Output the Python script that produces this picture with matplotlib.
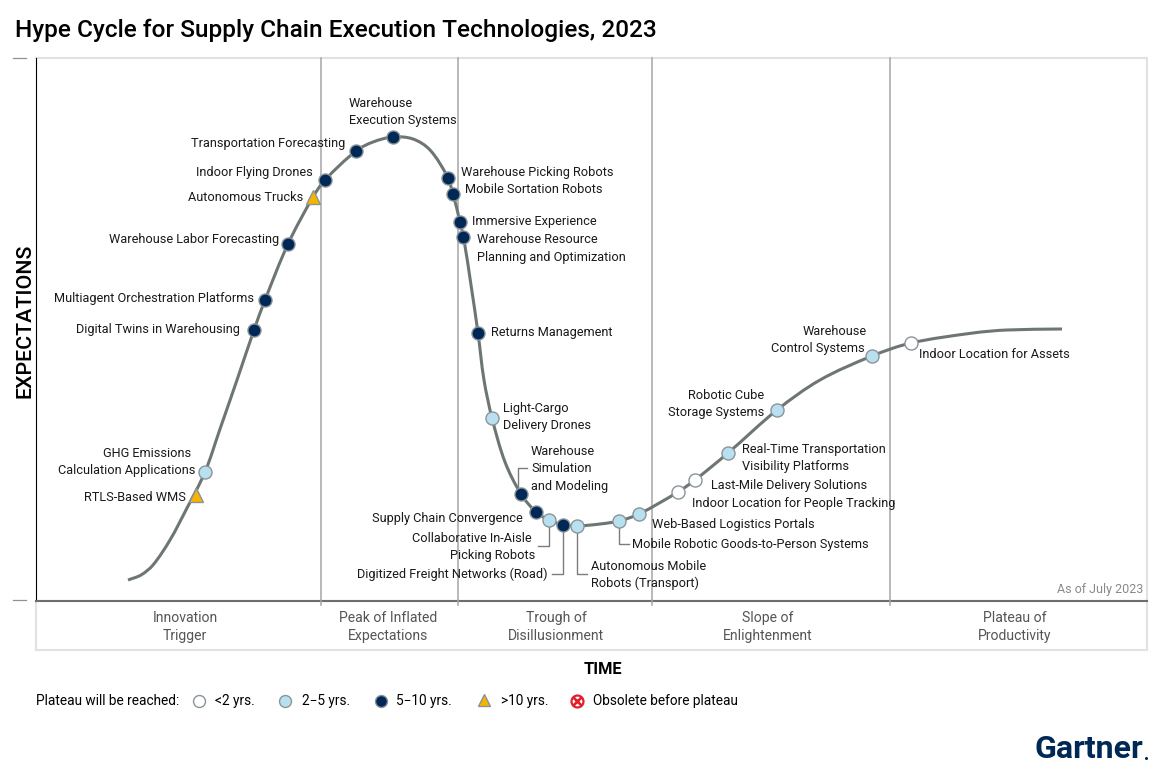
import matplotlib
matplotlib.use('Agg')
import matplotlib.pyplot as plt
import numpy as np
from matplotlib.path import Path
from matplotlib.patches import PathPatch

plt.rcParams['font.family'] = ['Roboto', 'DejaVu Sans']

# hype curve (pixels)
curve_x = [128, 141, 153, 170, 187, 205, 220, 237, 254, 265, 288, 313, 325, 356, 373, 393, 413, 430, 447, 453,
           460, 464, 471, 478, 484, 492, 505, 521, 536, 549, 563, 577, 600, 619, 639, 678, 695, 728, 777, 820,
           872, 911, 973, 1007, 1062]
curve_y = [580, 575, 565, 540, 508, 472, 429, 380, 330, 300, 244, 197, 180, 151, 142, 137, 139, 150, 176, 194,
           222, 240, 285, 333, 380, 418, 462, 494, 512, 520, 525, 526, 524, 521, 514, 492, 480, 453, 410, 380,
           356, 343, 333, 330, 329]

# technologies by time to plateau
white_x = [911, 695, 678]
white_y = [343, 480, 492]
light_x = [872, 777, 728, 639, 619, 577, 549, 492, 205]
light_y = [356, 410, 453, 514, 521, 526, 520, 418, 472]
navy_x = [393, 356, 325, 288, 265, 254, 448, 453, 460, 463, 478, 521, 536, 563]
navy_y = [137, 151, 180, 244, 300, 330, 178, 194, 222, 237, 333, 494, 512, 525]
tri_x = [313, 196]
tri_y = [197, 495]

phase_edges = [321, 458, 652, 890]
phase_names = ['Innovation\nTrigger', 'Peak of Inflated\nExpectations', 'Trough of\nDisillusionment',
               'Slope of\nEnlightenment', 'Plateau of\nProductivity']
phase_centers = [185, 388, 556, 768, 1015]

labels_left = [
    ('Warehouse', 349, 103), ('Execution Systems', 349, 120),
    ('Warehouse Picking Robots', 461, 172), ('Mobile Sortation Robots', 465, 189),
    ('Immersive Experience', 472, 221), ('Warehouse Resource', 477, 239),
    ('Planning and Optimization', 477, 257), ('Returns Management', 491, 332),
    ('Light-Cargo', 503, 408), ('Delivery Drones', 503, 425),
    ('Warehouse', 531, 451), ('Simulation', 531, 468), ('and Modeling', 531, 486),
    ('Autonomous Mobile', 591, 566), ('Robots (Transport)', 591, 583),
    ('Mobile Robotic Goods-to-Person Systems', 632, 544), ('Web-Based Logistics Portals', 652, 524),
    ('Indoor Location for People Tracking', 692, 503), ('Last-Mile Delivery Solutions', 711, 485),
    ('Real-Time Transportation', 742, 449), ('Visibility Platforms', 742, 466),
    ('Indoor Location for Assets', 919, 354),
]
labels_right = [
    ('Transportation Forecasting', 345, 143), ('Indoor Flying Drones', 313, 172),
    ('Autonomous Trucks', 303, 197), ('Warehouse Labor Forecasting', 279, 239),
    ('Multiagent Orchestration Platforms', 254, 298), ('Digital Twins in Warehousing', 240, 329),
    ('GHG Emissions', 191, 453), ('Calculation Applications', 195, 470), ('RTLS-Based WMS', 186, 497),
    ('Supply Chain Convergence', 523, 518), ('Collaborative In-Aisle', 532, 538),
    ('Picking Robots', 535, 555), ('Digitized Freight Networks (Road)', 548, 574),
    ('Robotic Cube', 764, 395), ('Storage Systems', 764, 412),
    ('Warehouse', 867, 331), ('Control Systems', 865, 348),
]

# leader lines from marker to label
leaders = [
    ([518, 518, 527], [493, 468, 468]),
    ([549, 549, 538], [520, 546, 546]),
    ([563, 563, 552], [525, 574, 574]),
    ([577, 577, 587], [526, 574, 574]),
    ([619, 619, 629], [521, 544, 544]),
]

NAVY = '#002856'
LIGHT = '#b9e0f0'
EDGE = '#8a9499'
AMBER = '#f5b400'

fig = plt.figure(figsize=(11.7, 7.71), dpi=100)
ax = fig.add_axes([0, 0, 1, 1])
ax.set_xlim(0, 1170)
ax.set_ylim(771, 0)
ax.axis('off')

# frame
ax.plot([36, 1147, 1147], [58, 58, 650], color='#e2e2e2', lw=1.5)
ax.plot([36, 36, 1147], [650, 601, 601], color='#e2e2e2', lw=1.5)
ax.plot([36, 1147], [650, 650], color='#e2e2e2', lw=1.5)
ax.plot([36, 36], [58, 601], color='black', lw=0.8)
ax.plot([36, 1147], [601, 601], color='#6b6f70', lw=1.5)
ax.plot([13, 26], [58, 58], color='#8a9499', lw=0.9)
ax.plot([13, 26], [600, 600], color='#8a9499', lw=0.9)
for x in phase_edges:
    ax.plot([x, x], [58, 605], color='#a5a5a5', lw=1.1)

# curve, bezier segments through the read points
pts = np.column_stack([curve_x, curve_y]).astype(float)
tangents = np.zeros_like(pts)
for i in range(len(pts)):
    p0 = pts[max(i - 1, 0)]
    p2 = pts[min(i + 1, len(pts) - 1)]
    tangents[i] = (p2 - p0) / np.hypot(*(p2 - p0))
verts = [pts[0]]
codes = [Path.MOVETO]
for i in range(len(pts) - 1):
    d = np.hypot(*(pts[i + 1] - pts[i])) / 3
    verts += [pts[i] + tangents[i] * d, pts[i + 1] - tangents[i + 1] * d, pts[i + 1]]
    codes += [Path.CURVE4] * 3
ax.add_patch(PathPatch(Path(verts, codes), fill=False, edgecolor='#6d7673', lw=2.2, capstyle='butt', zorder=2))

for xs, ys in leaders:
    ax.plot(xs, ys, color='#7c7c7c', lw=1.0, zorder=2.5)

ms = 9.4
ax.plot(white_x, white_y, 'o', ms=ms, mfc='white', mec=EDGE, mew=1, zorder=3)
ax.plot(light_x, light_y, 'o', ms=ms, mfc=LIGHT, mec=EDGE, mew=1, zorder=3)
ax.plot(navy_x, navy_y, 'o', ms=ms, mfc=NAVY, mec=EDGE, mew=1, zorder=3)
ax.plot(tri_x, tri_y, '^', ms=ms + 0.6, mfc=AMBER, mec=EDGE, mew=1, zorder=3)

for s, x, y in labels_left:
    ax.text(x, y + 4, s, ha='left', va='baseline', fontsize=9.15, color='#1a1a1a')
for s, x, y in labels_right:
    ax.text(x, y + 4, s, ha='right', va='baseline', fontsize=9.15, color='#1a1a1a')

ax.text(15, 30, 'Hype Cycle for Supply Chain Execution Technologies, 2023', fontsize=17.6, fontweight='medium',
        ha='left', va='center', color='black')
ax.text(25, 321, 'EXPECTATIONS', fontsize=15.4, fontweight='medium', rotation=90, ha='center', va='center')
ax.text(603, 669, 'TIME', fontsize=11.8, fontweight='bold', ha='center', va='center')
ax.text(1143, 590, 'As of July 2023', fontsize=9, color='#8a8a8a', ha='right', va='center')

for name, xc in zip(phase_names, phase_centers):
    ax.text(xc, 627, name, fontsize=10.1, color='#555555', ha='center', va='center', linespacing=1.4)

# legend
ly = 701
ax.text(36, ly, 'Plateau will be reached:', fontsize=9.8, color='black', ha='left', va='center')
ax.plot([199], [ly], 'o', ms=8.6, mfc='white', mec=EDGE, mew=1)
ax.text(215, ly, '<2 yrs.', fontsize=9.8, color='black', ha='left', va='center')
ax.plot([285], [ly], 'o', ms=8.6, mfc=LIGHT, mec=EDGE, mew=1)
ax.text(302, ly, '2\u22125 yrs.', fontsize=9.8, color='black', ha='left', va='center')
ax.plot([381], [ly], 'o', ms=8.6, mfc=NAVY, mec=EDGE, mew=1)
ax.text(396, ly, '5\u221210 yrs.', fontsize=9.8, color='black', ha='left', va='center')
ax.plot([484], [ly - 1], '^', ms=9, mfc=AMBER, mec=EDGE, mew=1)
ax.text(501, ly, '>10 yrs.', fontsize=9.8, color='black', ha='left', va='center')
ax.plot([577], [ly], 'o', ms=8.6, mfc='white', mec='#e0202a', mew=1.6)
ax.plot([577], [ly], 'x', ms=5.5, mec='#e0202a', mew=1.9)
ax.text(593, ly, 'Obsolete before plateau', fontsize=9.8, color='black', ha='left', va='center')

ax.text(1143, 749, 'Gartner', fontsize=23, fontweight='bold', color=NAVY, ha='right', va='center')
ax.plot([1146], [758], 'o', ms=2.2, color=NAVY, mew=0)

fig.savefig('out.png', dpi=100)
